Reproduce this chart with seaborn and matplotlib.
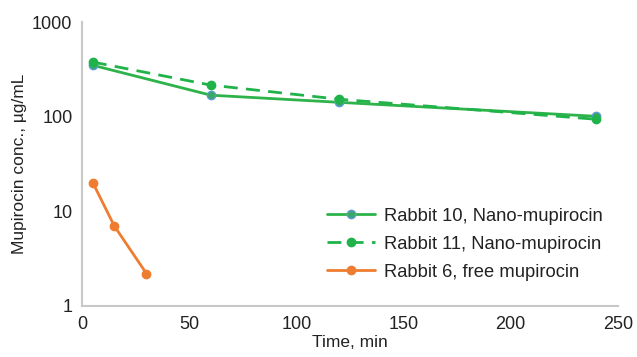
import matplotlib
matplotlib.use("Agg")
import matplotlib.pyplot as plt
import seaborn as sns
import pandas as pd

time_r10 = [5, 60, 120, 240]
conc_r10 = [350, 169, 142, 101]
time_r11 = [5, 60, 120, 240]
conc_r11 = [378, 216, 153, 94]
time_r6 = [5, 15, 30]
conc_r6 = [20, 7.0, 2.2]

labels = ["Rabbit 10, Nano-mupirocin", "Rabbit 11, Nano-mupirocin", "Rabbit 6, free mupirocin"]

df = pd.concat([
    pd.DataFrame({"t": time_r10, "c": conc_r10, "s": labels[0]}),
    pd.DataFrame({"t": time_r11, "c": conc_r11, "s": labels[1]}),
    pd.DataFrame({"t": time_r6, "c": conc_r6, "s": labels[2]}),
])

sns.set_theme(style="white")
plt.rcParams['font.family'] = ['Liberation Sans', 'DejaVu Sans']

fig = plt.figure(figsize=(6.37, 3.57), dpi=100)
ax = fig.add_axes([0.129, 0.143, 0.841, 0.795])

palette = {labels[0]: "#2db34a", labels[1]: "#1fb34a", labels[2]: "#ee7d31"}
sns.lineplot(data=df, x="t", y="c", hue="s", palette=palette, ax=ax, legend=False,
             linewidth=2)

styles = [
    dict(color="#2db34a", ls="-", mfc="#3aa860", mec="#5b9bd5"),
    dict(color="#1fb34a", ls=(0, (5, 3)), mfc="#1fb34a", mec="#1fb34a"),
    dict(color="#ee7d31", ls="-", mfc="#ee7d31", mec="#ee7d31"),
]
for line, st in zip(ax.lines, styles):
    line.set_color(st["color"])
    line.set_linestyle(st["ls"])
    line.set_marker("o")
    line.set_markersize(6)
    line.set_markerfacecolor(st["mfc"])
    line.set_markeredgecolor(st["mec"])
    line.set_markeredgewidth(1)

ax.set_yscale("log")
ax.set_ylim(1, 1000)
ax.set_xlim(0, 250)
ax.set_xticks([0, 50, 100, 150, 200, 250])
ax.set_yticks([1, 10, 100, 1000])
ax.set_yticklabels(["1", "10", "100", "1000"])
ax.minorticks_off()
ax.tick_params(axis="both", length=0, labelsize=13, colors="#222222", pad=7)
ax.set_xlabel("Time, min", fontsize=12.5, color="#222222", labelpad=2)
ax.set_ylabel("Mupirocin conc., µg/mL", fontsize=12.5, color="#222222", labelpad=4)
for s in ["top", "right"]:
    ax.spines[s].set_visible(False)
for s in ["left", "bottom"]:
    ax.spines[s].set_color("#c8c8c8")
    ax.spines[s].set_linewidth(1.5)

leg = ax.legend(ax.lines, labels, loc="lower right", bbox_to_anchor=(0.985, 0.063),
                frameon=False, fontsize=13.2, handlelength=2.6, handletextpad=0.5,
                labelspacing=0.6, borderaxespad=0)
for t in leg.get_texts():
    t.set_color("#222222")

fig.savefig("out.png", dpi=100)
